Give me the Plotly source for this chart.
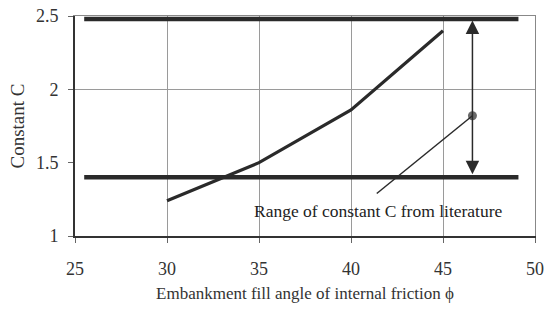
import plotly.graph_objects as go

# Data
phi = [30, 35, 40, 45]
constant_c = [1.24, 1.50, 1.86, 2.40]

lit_x = [25.5, 49.1]
lit_upper = 2.48
lit_lower = 1.40

arrow_x = 46.6
arrow_y = [1.41, 2.47]

leader_x = [46.6, 41.4]
leader_y = [1.82, 1.29]

note_text = "Range of constant C from literature"
note_x = 41.5
note_y = 1.17

x_ticks = [25, 30, 35, 40, 45, 50]
y_ticks = [1, 1.5, 2, 2.5]

font = "Liberation Serif, Times New Roman, serif"
dark = "#2a2a2a"

fig = go.Figure()

fig.add_trace(go.Scatter(x=lit_x, y=[lit_upper] * 2, mode="lines",
                         line=dict(color=dark, width=4.5), showlegend=False))
fig.add_trace(go.Scatter(x=lit_x, y=[lit_lower] * 2, mode="lines",
                         line=dict(color=dark, width=4.5), showlegend=False))
fig.add_trace(go.Scatter(x=phi, y=constant_c, mode="lines",
                         line=dict(color=dark, width=3.2), showlegend=False))
fig.add_trace(go.Scatter(x=leader_x, y=leader_y, mode="lines+markers",
                         line=dict(color=dark, width=1.5),
                         marker=dict(size=[9, 0], color=dark,
                                     line=dict(width=0)),
                         showlegend=False))
fig.add_trace(go.Scatter(x=[None], y=[None], xaxis="x2", yaxis="y2",
                         showlegend=False))

fig.add_annotation(x=arrow_x, y=arrow_y[1], ax=arrow_x, ay=arrow_y[0],
                   xref="x", yref="y", axref="x", ayref="y",
                   showarrow=True, arrowhead=2, arrowside="end+start",
                   arrowsize=1.8, arrowwidth=1.5, arrowcolor=dark, text="")
fig.add_annotation(x=note_x, y=note_y, xref="x", yref="y", text=note_text,
                   showarrow=False, font=dict(family=font, size=17.5, color="#222"))

fig.update_layout(
    width=544, height=320,
    margin=dict(l=75, r=9, t=16, b=84, autoexpand=False),
    paper_bgcolor="white", plot_bgcolor="white",
    font=dict(family=font, size=18, color="#333"),
    hovermode=False,
    xaxis=dict(range=[25, 50], tickvals=x_ticks, showgrid=True,
               gridcolor="#9a9a9a", gridwidth=1, zeroline=False,
               showline=True, linecolor="#333", linewidth=2,
               ticks="outside", ticklen=5, tickcolor="#666",
               ticklabelstandoff=10, automargin=False,
               ticklabeloverflow="allow",
               title=dict(text="Embankment fill angle of internal friction ϕ",
                          font=dict(size=17, family=font), standoff=10)),
    yaxis=dict(range=[1, 2.5], tickvals=y_ticks, showgrid=False,
               zeroline=False, showline=True, linecolor="#333", linewidth=2,
               ticks="outside", ticklen=5, tickcolor="#666",
               ticklabelstandoff=6, automargin=False,
               ticklabeloverflow="allow",
               title=dict(text="Constant C", font=dict(size=19, family=font),
                          standoff=6)),
    yaxis2=dict(range=[1, 2.5], overlaying="y", side="right",
                tickvals=[2, 2.5], showgrid=True, gridcolor="#9a9a9a",
                gridwidth=1, showticklabels=False, ticks="", zeroline=False,
                showline=True, linecolor="#888", linewidth=1,
                automargin=False),
    xaxis2=dict(range=[25, 50], overlaying="x", side="top",
                showticklabels=False, ticks="", showgrid=False,
                showline=True, linecolor="#888", linewidth=1,
                automargin=False),
)

# Remove the page's default body margin so the figure fills the window.
fig.write_html("out.html",
               config={"displayModeBar": False, "staticPlot": True},
               post_script="document.body.style.margin='0';")
